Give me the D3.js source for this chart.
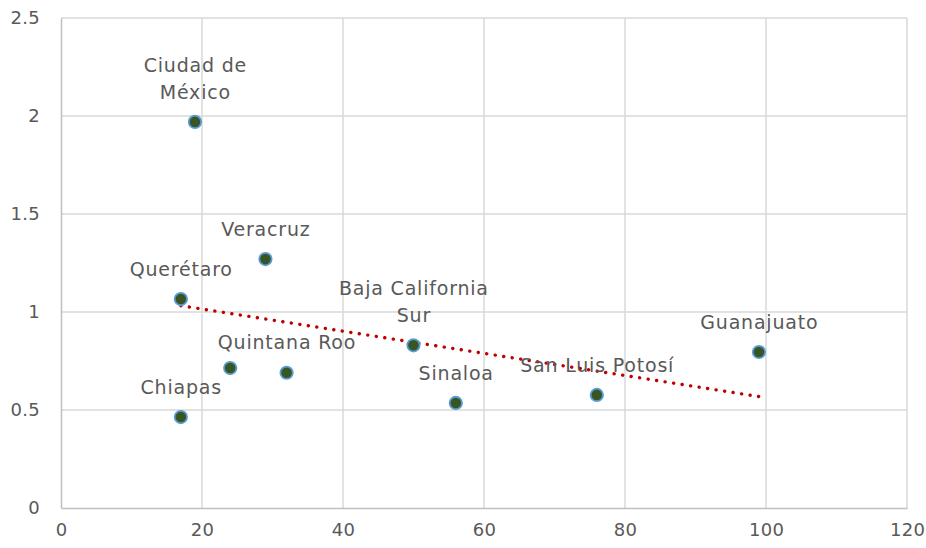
<!DOCTYPE html>
<html><head><meta charset="utf-8">
<script src="https://cdn.jsdelivr.net/npm/d3@7"></script>
<style>body{margin:0;background:#fff}svg{display:block}</style>
</head><body>
<svg id="c" width="926" height="548"></svg>
<script>
const states = ["Ciudad de México","Veracruz","Querétaro","","Quintana Roo","Chiapas","Baja California Sur","Sinaloa","San Luis Potosí","Guanajuato"];
const labelLines = [["Ciudad de","México"],["Veracruz"],["Querétaro"],[],["Quintana Roo"],["Chiapas"],["Baja California","Sur"],["Sinaloa"],["San Luis Potosí"],["Guanajuato"]];
const xValues = [19,29,17,24,32,17,50,56,76,99];
const yValues = [1.97,1.27,1.066,0.714,0.69,0.464,0.83,0.536,0.577,0.796];
const xTicks = [0,20,40,60,80,100,120];
const yTicks = [0,0.5,1,1.5,2,2.5];

const svg = d3.select("#c");
const m = {l:61,r:19,t:18,b:40};
const W = 926, H = 548;
const x = d3.scaleLinear().domain([0,120]).range([m.l, W-m.r]);
const y = d3.scaleLinear().domain([0,2.5]).range([H-m.b, m.t]);
const font = "'DejaVu Sans', sans-serif";
const txt = "#595959";

// gridlines
svg.append("g").selectAll("line").data(xTicks.slice(1)).join("line")
  .attr("x1",d=>x(d)).attr("x2",d=>x(d)).attr("y1",y(0)).attr("y2",y(2.5))
  .attr("stroke","#d9d9d9").attr("stroke-width",1.5);
svg.append("g").selectAll("line").data(yTicks.slice(1)).join("line")
  .attr("x1",x(0)).attr("x2",x(120)).attr("y1",d=>y(d)).attr("y2",d=>y(d))
  .attr("stroke","#d9d9d9").attr("stroke-width",1.5);

// axes
const xa = svg.append("g").attr("transform",`translate(0,${y(0)})`)
  .call(d3.axisBottom(x).tickValues(xTicks).tickSize(0).tickPadding(15).tickFormat(d3.format("")));
const ya = svg.append("g").attr("transform",`translate(${x(0)},0)`)
  .call(d3.axisLeft(y).tickValues(yTicks).tickSize(0).tickPadding(21).tickFormat(d=>String(d)));
[xa,ya].forEach(a=>{
  a.select(".domain").attr("stroke","#bfbfbf").attr("stroke-width",1.5);
  a.selectAll("text").attr("fill",txt).style("font-family",font).style("font-size","18px").style("letter-spacing","0.3px");
});

// data
const data = xValues.map((v,i)=>({x:v,y:yValues[i],lines:labelLines[i]}));

// trendline (linear least squares)
const mx = d3.mean(xValues), my = d3.mean(yValues);
const slope = d3.sum(data,d=>(d.x-mx)*(d.y-my))/d3.sum(data,d=>(d.x-mx)**2);
const icpt = my - slope*mx;
const x0 = d3.min(xValues), x1 = d3.max(xValues);
svg.append("line")
  .attr("x1",x(x0)).attr("y1",y(icpt+slope*x0))
  .attr("x2",x(x1)).attr("y2",y(icpt+slope*x1))
  .attr("stroke","#c00000").attr("stroke-width",3.4)
  .attr("stroke-linecap","round").attr("stroke-dasharray","0.1 8.5");

// points
svg.append("g").selectAll("circle").data(data).join("circle")
  .attr("cx",d=>x(d.x)).attr("cy",d=>y(d.y)).attr("r",6.2)
  .attr("fill","#375623").attr("stroke","#5b9bd5").attr("stroke-width",1.8);

// labels
const lg = svg.append("g").style("font-family",font).style("font-size","19px").style("letter-spacing","0.8px").attr("fill",txt).attr("text-anchor","middle");
data.forEach(d=>{
  const n = d.lines.length;
  d.lines.forEach((t,j)=>{
    lg.append("text").attr("x",x(d.x)+0.4).attr("y",y(d.y)-30-(n-1-j)*27)
      .attr("dy","0.35em").text(t);
  });
});
</script>
</body></html>
